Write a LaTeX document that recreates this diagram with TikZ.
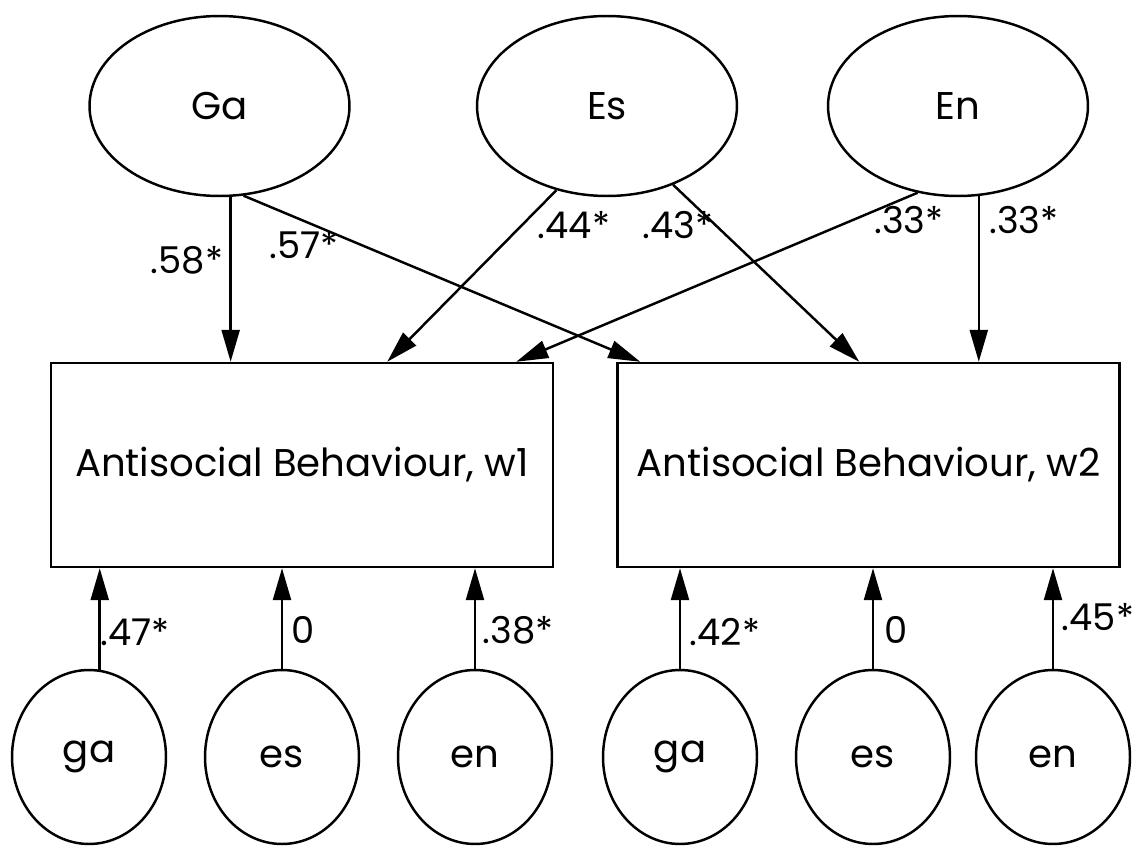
\documentclass[tikz,border=0pt]{standalone}
\usepackage{fontspec}
\setmainfont{Poppins}
\usetikzlibrary{shapes.geometric,arrows.meta}
\begin{document}
\begin{tikzpicture}[x=0.02cm,y=-0.02cm,
		every node/.style={font=\fontsize{22}{26}\selectfont},
		latent/.style={draw,ellipse,line width=1.4pt,inner sep=0pt,minimum width=5.2cm,minimum height=3.6cm},
		resid/.style={draw,ellipse,line width=1.4pt,inner sep=0pt,minimum width=3.08cm,minimum height=3.48cm},
		obsbox/.style={draw,rectangle,line width=1.4pt,minimum width=10.04cm,minimum height=4.08cm},
		arr/.style={line width=1.4pt,-{Triangle[length=6.4mm,width=3.6mm]}},
		coef/.style={inner sep=0pt,font=\fontsize{21}{25}\selectfont}]
		\useasboundingbox (0,0) rectangle (1133,848);
		% latent factors
		\node[latent] (Ga) at (219.5,106) {Ga};
		\node[latent] (Es) at (607,106) {Es};
		\node[latent] (En) at (958,106) {En};
		% the two waves
		\node[obsbox] (w1) at (302,465) {Antisocial Behaviour, w1};
		\node[obsbox] (w2) at (868.5,465) {Antisocial Behaviour, w2};
		\foreach \n/\x/\t in {ga1/89/ga, es1/282/es, en1/475/en, ga2/680/ga, es2/873/es, en2/1053/en}
			\node[resid] (\n) at (\x,757) {\t};
		% paths
		\draw[arr] (Ga.-83) -- (Ga.-83 |- w1.north);
		\draw[arr] (Ga.-75) -- ([xshift=0.48cm]w2.north west);
		\draw[arr] (Es.-121) -- ([xshift=-3.34cm]w1.north east);
		\draw[arr] (Es.-50) -- ([xshift=4.86cm]w2.north west);
		\draw[arr] (En.-115) -- ([xshift=-0.76cm]w1.north east);
		\draw[arr] (En.-77.5) -- (En.-77.5 |- w2.north);
		\draw[arr] (ga1.83) -- (ga1.83 |- w1.south);
		\foreach \n/\w in {es1/w1, en1/w1, ga2/w2, es2/w2, en2/w2}
			\draw[arr] (\n.north) -- (\n.north |- \w.south);
		% coefficients
		\foreach \n/\x/\y/\t in {cGa1/187/260/.58*, cGa2/304/245/.57*, cEs1/574/225/.44*, cEs2/678/225/.43*,
				cEn1/909/220/.33*, cEn2/1024/220/.33*, cga1/135/632/.47*, ces1/303/630/0, cen1/518/630/.38*,
				cga2/725/632/.42*, ces2/896/630/0, cen2/1098/617/.45*}
			\node[coef] (\n) at (\x,\y) {\t};
	\end{tikzpicture}
\end{document}
